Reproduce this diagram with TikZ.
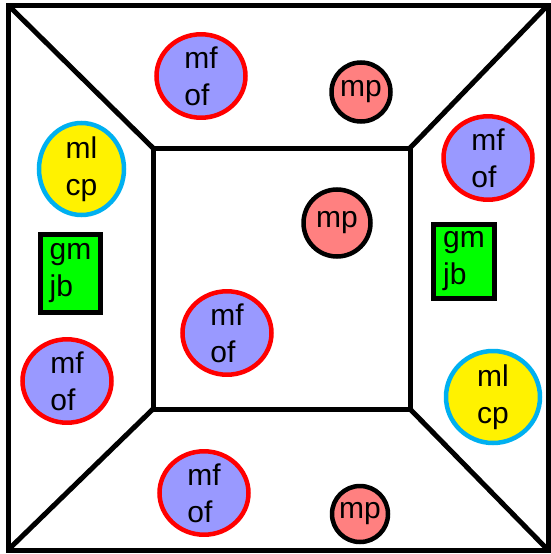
\documentclass[tikz,border=0pt]{standalone}
\usepackage{fontspec}
\setmainfont{Liberation Sans}
\usetikzlibrary{shapes.geometric}
\definecolor{mfblue}{RGB}{153,153,255}
\definecolor{mppink}{RGB}{255,128,128}
\definecolor{mlyellow}{RGB}{255,242,0}
\definecolor{mlcyan}{RGB}{0,176,240}
\definecolor{gmgreen}{RGB}{0,255,0}

\begin{document}
\begin{tikzpicture}[
    x=1pt, y=-1pt,
    wall/.style={line width=5pt, line join=miter},
    txt/.style={font=\fontsize{30}{37}\selectfont, align=left, inner sep=0pt},
    mfof/.style={txt, ellipse, draw=red, fill=mfblue, line width=4.5pt,
        minimum width=89pt, minimum height=83pt},
    mpball/.style={txt, circle, draw=black, fill=mppink, line width=4.5pt},
    mlcp/.style={txt, ellipse, draw=mlcyan, fill=mlyellow, line width=4.5pt,
        minimum height=92pt},
    gmjb/.style={txt, rectangle, draw=black, fill=gmgreen, line width=5pt}
]
    \useasboundingbox (0,0) rectangle (550,554);
    % 外框与内框
    \coordinate (o1) at (8,5);
    \coordinate (o2) at (548,5);
    \coordinate (o3) at (548,550);
    \coordinate (o4) at (8,550);
    \coordinate (i1) at (153,148);
    \coordinate (i2) at (410,148);
    \coordinate (i3) at (410,409);
    \coordinate (i4) at (153,409);
    \draw[wall] (o1) -- (o2) -- (o3) -- (o4) -- cycle;
    \draw[wall] (i1) -- (i2) -- (i3) -- (i4) -- cycle;
    \draw[wall] (o1) -- (i1);
    \draw[wall] (o2) -- (i2);
    \draw[wall] (o3) -- (i3);
    \draw[wall] (o4) -- (i4);

    \node[mfof] (mf1) at (201,76) {mf\\of};
    \node[mfof] (mf2) at (488,158) {mf\\of};
    \node[mfof] (mf3) at (227,333) {mf\\of};
    \node[mfof] (mf4) at (67,381) {mf\\of};
    \node[mfof] (mf5) at (204,493) {mf\\of};

    \node[mpball, minimum size=59pt] (mp1) at (361,92) {mp};
    \node[mpball, minimum size=67pt] (mp2) at (337,223) {mp};
    \node[mpball, minimum size=56pt] (mp3) at (360,514) {mp};

    \node[mlcp, minimum width=85pt] (ml1) at (81.5,169) {ml\\cp};
    \node[mlcp, minimum width=94pt] (ml2) at (493,397) {ml\\cp};

    \node[gmjb, minimum width=60pt, minimum height=78pt] (gm1) at (70.5,273.5) {gm\\jb};
    \node[gmjb, minimum width=61pt, minimum height=74pt] (gm2) at (464,261.5) {gm\\jb};
\end{tikzpicture}
\end{document}
